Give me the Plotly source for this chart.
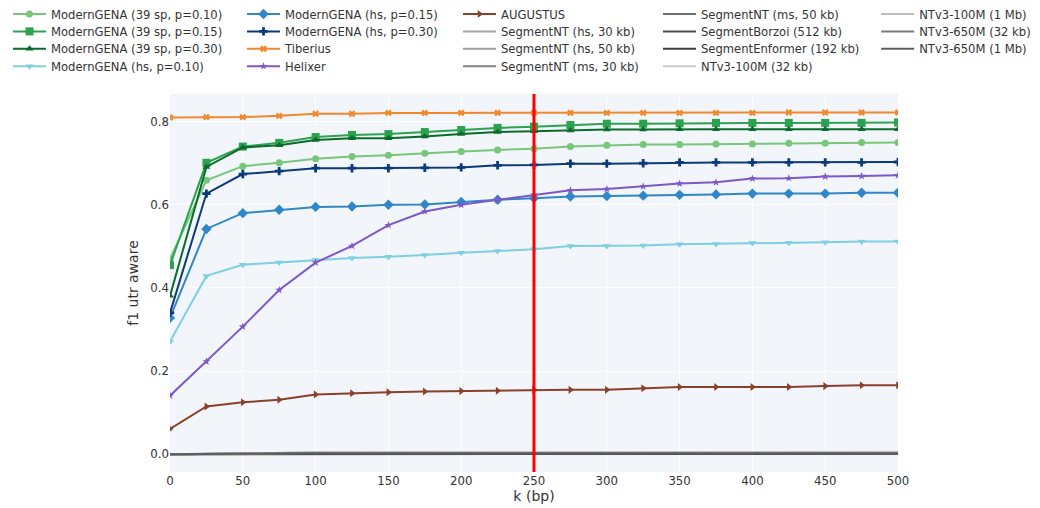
import plotly.graph_objects as go

k_bp = [0, 25, 50, 75, 100, 125, 150, 175, 200, 225, 250, 275, 300, 325, 350, 375, 400, 425, 450, 475, 500]

mg_39sp_p010 = [0.470, 0.659, 0.693, 0.701, 0.711, 0.716, 0.719, 0.724, 0.728, 0.732, 0.735, 0.740, 0.743, 0.745, 0.745, 0.746, 0.746, 0.748, 0.748, 0.750, 0.750]
mg_39sp_p015 = [0.455, 0.701, 0.740, 0.749, 0.763, 0.768, 0.770, 0.775, 0.780, 0.785, 0.788, 0.792, 0.795, 0.795, 0.796, 0.797, 0.797, 0.797, 0.797, 0.797, 0.798]
mg_39sp_p030 = [0.381, 0.691, 0.738, 0.743, 0.756, 0.760, 0.760, 0.764, 0.770, 0.775, 0.777, 0.779, 0.781, 0.781, 0.782, 0.782, 0.782, 0.782, 0.782, 0.782, 0.782]
mg_hs_p010 = [0.271, 0.429, 0.456, 0.461, 0.467, 0.472, 0.475, 0.479, 0.485, 0.489, 0.493, 0.501, 0.501, 0.502, 0.505, 0.506, 0.508, 0.509, 0.510, 0.512, 0.512]
mg_hs_p015 = [0.328, 0.542, 0.580, 0.588, 0.595, 0.596, 0.600, 0.601, 0.607, 0.612, 0.616, 0.620, 0.621, 0.622, 0.624, 0.625, 0.627, 0.627, 0.627, 0.629, 0.629]
mg_hs_p030 = [0.340, 0.627, 0.674, 0.681, 0.688, 0.688, 0.688, 0.689, 0.690, 0.695, 0.696, 0.699, 0.699, 0.700, 0.702, 0.702, 0.702, 0.702, 0.702, 0.702, 0.703]
tiberius = [0.810, 0.811, 0.811, 0.814, 0.819, 0.819, 0.821, 0.821, 0.821, 0.821, 0.821, 0.821, 0.821, 0.821, 0.821, 0.821, 0.821, 0.822, 0.822, 0.822, 0.822]
helixer = [0.141, 0.223, 0.307, 0.395, 0.461, 0.501, 0.551, 0.584, 0.600, 0.612, 0.624, 0.635, 0.638, 0.644, 0.651, 0.654, 0.663, 0.664, 0.668, 0.669, 0.671]
augustus = [0.061, 0.115, 0.125, 0.131, 0.144, 0.147, 0.149, 0.151, 0.152, 0.153, 0.155, 0.155, 0.155, 0.159, 0.162, 0.162, 0.162, 0.162, 0.164, 0.166, 0.166]

segnt_hs_30 = [0.000, 0.001, 0.003, 0.004, 0.004, 0.004, 0.004, 0.004, 0.004, 0.004, 0.004, 0.004, 0.004, 0.004, 0.004, 0.004, 0.004, 0.004, 0.004, 0.004, 0.004]
segnt_hs_50 = [0.000, 0.001, 0.003, 0.003, 0.004, 0.004, 0.004, 0.004, 0.004, 0.004, 0.005, 0.005, 0.005, 0.005, 0.005, 0.005, 0.005, 0.005, 0.005, 0.005, 0.005]
segnt_ms_30 = [0.000, 0.001, 0.002, 0.003, 0.003, 0.003, 0.003, 0.003, 0.003, 0.003, 0.003, 0.003, 0.003, 0.003, 0.003, 0.003, 0.003, 0.003, 0.003, 0.003, 0.003]
segnt_ms_50 = [0.000, 0.001, 0.002, 0.003, 0.003, 0.003, 0.004, 0.004, 0.004, 0.004, 0.004, 0.004, 0.004, 0.004, 0.004, 0.004, 0.004, 0.004, 0.004, 0.004, 0.004]
seg_borzoi = [0.000, 0.000, 0.001, 0.001, 0.001, 0.001, 0.001, 0.001, 0.001, 0.001, 0.001, 0.001, 0.001, 0.001, 0.001, 0.001, 0.001, 0.001, 0.001, 0.001, 0.001]
seg_enformer = [0.000, 0.000, 0.001, 0.001, 0.001, 0.002, 0.002, 0.002, 0.002, 0.002, 0.002, 0.002, 0.002, 0.002, 0.002, 0.002, 0.002, 0.002, 0.002, 0.002, 0.002]
ntv3_100m_32 = [0.000, 0.001, 0.003, 0.004, 0.005, 0.005, 0.005, 0.005, 0.005, 0.005, 0.005, 0.005, 0.006, 0.006, 0.006, 0.006, 0.006, 0.006, 0.006, 0.006, 0.006]
ntv3_100m_1m = [0.000, 0.001, 0.002, 0.003, 0.004, 0.004, 0.004, 0.004, 0.005, 0.005, 0.005, 0.005, 0.005, 0.005, 0.005, 0.005, 0.005, 0.005, 0.005, 0.005, 0.005]
ntv3_650m_32 = [0.000, 0.001, 0.002, 0.002, 0.003, 0.003, 0.003, 0.003, 0.003, 0.003, 0.003, 0.003, 0.003, 0.003, 0.003, 0.003, 0.003, 0.003, 0.003, 0.003, 0.003]
ntv3_650m_1m = [0.000, 0.000, 0.001, 0.002, 0.002, 0.002, 0.002, 0.002, 0.002, 0.002, 0.002, 0.002, 0.002, 0.002, 0.002, 0.002, 0.002, 0.002, 0.002, 0.002, 0.002]

threshold_bp = 250

# (name, values, color, marker symbol, marker size); legend is filled column by column, 4 rows
series = [
    ("ModernGENA (39 sp, p=0.10)", mg_39sp_p010, "#78c679", "circle", 7),
    ("ModernGENA (39 sp, p=0.15)", mg_39sp_p015, "#2ca24f", "square", 8),
    ("ModernGENA (39 sp, p=0.30)", mg_39sp_p030, "#0b6b2a", "triangle-up", 7),
    ("ModernGENA (hs, p=0.10)", mg_hs_p010, "#7ecfe2", "triangle-down", 7),
    ("ModernGENA (hs, p=0.15)", mg_hs_p015, "#2f86c8", "diamond", 8),
    ("ModernGENA (hs, p=0.30)", mg_hs_p030, "#0b3a7a", "cross", 7),
    ("Tiberius", tiberius, "#f0882e", "x", 6),
    ("Helixer", helixer, "#7e57c8", "star", 6),
    ("AUGUSTUS", augustus, "#8a402b", "triangle-right", 7),
    ("SegmentNT (hs, 30 kb)", segnt_hs_30, "#a6a6a6", None, 0),
    ("SegmentNT (hs, 50 kb)", segnt_hs_50, "#9a9a9a", None, 0),
    ("SegmentNT (ms, 30 kb)", segnt_ms_30, "#858585", None, 0),
    ("SegmentNT (ms, 50 kb)", segnt_ms_50, "#6e6e6e", None, 0),
    ("SegmentBorzoi (512 kb)", seg_borzoi, "#4e4e4e", None, 0),
    ("SegmentEnformer (192 kb)", seg_enformer, "#3c3c3c", None, 0),
    ("NTv3-100M (32 kb)", ntv3_100m_32, "#cccccc", None, 0),
    ("NTv3-100M (1 Mb)", ntv3_100m_1m, "#bdbdbd", None, 0),
    ("NTv3-650M (32 kb)", ntv3_650m_32, "#7a7a7a", None, 0),
    ("NTv3-650M (1 Mb)", ntv3_650m_1m, "#5e5e5e", None, 0),
]

font = dict(family="DejaVu Sans", size=11.75, color="#333333")
legend_font = dict(family="DejaVu Sans", size=11.6, color="#333333")

# legend column left edges (paper x) and row tops (paper y)
col_x = [-0.2225, 0.0989, 0.3956, 0.6703, 0.9700]
row_y = [1.2500, 1.2040, 1.1579, 1.1119]

fig = go.Figure()
legend_cfg = {}
traces = []
for i, (name, vals, color, sym, size) in enumerate(series):
    key = "legend" if i == 0 else f"legend{i + 1}"
    col, row = divmod(i, 4)
    legend_cfg[key] = dict(x=col_x[col], y=row_y[row], xanchor="left", yanchor="top",
                           orientation="v", bgcolor="rgba(0,0,0,0)", borderwidth=0,
                           font=legend_font, itemwidth=33)
    if sym is None:
        tr = go.Scatter(x=k_bp, y=vals, name=name, mode="lines",
                        line=dict(color=color, width=2), legend=key)
    else:
        tr = go.Scatter(x=k_bp, y=vals, name=name, mode="lines+markers",
                        line=dict(color=color, width=2),
                        marker=dict(symbol=sym, size=size, color=color),
                        legend=key)
    traces.append((sym is None, tr))

# gray baselines first so coloured series sit on top
for is_gray, tr in traces:
    if is_gray:
        fig.add_trace(tr)
for is_gray, tr in traces:
    if not is_gray:
        fig.add_trace(tr)

fig.add_vline(x=threshold_bp, line_color="red", line_width=3)

fig.update_layout(
    width=1040, height=508,
    margin=dict(l=162, r=150, t=86, b=44, autoexpand=False),
    paper_bgcolor="white",
    plot_bgcolor="#f2f5fa",
    font=font,
    showlegend=True,
    **legend_cfg,
)
fig.update_xaxes(range=[0, 500], tickvals=[0, 50, 100, 150, 200, 250, 300, 350, 400, 450, 500],
                 gridcolor="white", zeroline=False, showline=False,
                 title=dict(text="k (bp)", standoff=4), ticks="", tickfont=font)
fig.update_yaxes(range=[-0.0426, 0.8665], tickvals=[0, 0.2, 0.4, 0.6, 0.8], tickformat=".1f",
                 gridcolor="white", zeroline=False, showline=False,
                 title=dict(text="f1 utr aware", standoff=8), ticks="", tickfont=font)

fig.write_html("out.html")
